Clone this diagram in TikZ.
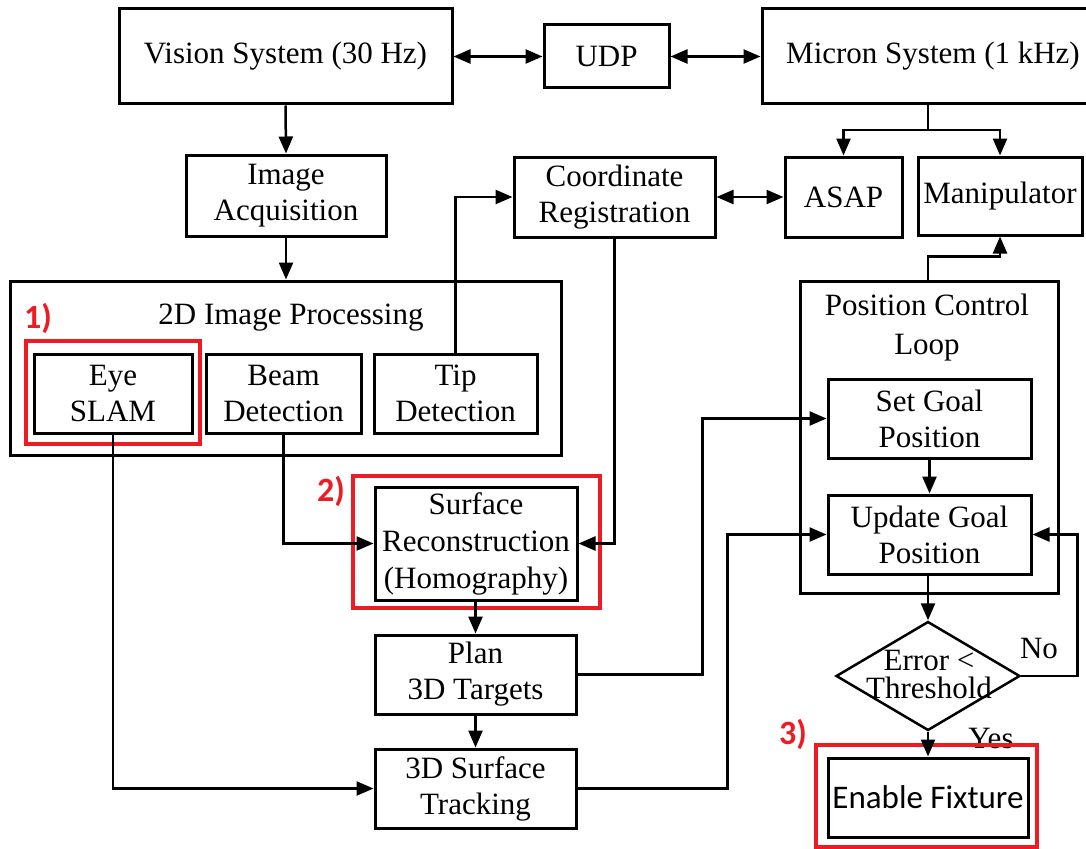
\documentclass[tikz,border=0pt]{standalone}
\usepackage{fontspec}
\setmainfont{Liberation Serif}
\newfontfamily\calibri{Carlito}
\usetikzlibrary{arrows.meta, positioning, shapes.geometric, calc}
\definecolor{markRed}{HTML}{ED1C24}
\tikzset{
  arrowK/.style={-{Triangle[length=17pt,width=14pt]}, line width=2.5pt},
  arrowKK/.style={{Triangle[length=17pt,width=14pt]}-{Triangle[length=17pt,width=14pt]}, line width=2.5pt},
  boxA/.style={rectangle, draw, line width=3pt, align=center, inner sep=0pt},
  boxGroup/.style={rectangle, draw, line width=3pt, inner sep=0pt},
  boxRed/.style={rectangle, draw=markRed, line width=4.5pt, inner sep=0pt},
  tagRed/.style={text=markRed, font=\calibri\bfseries\fontsize{34}{36}\selectfont},
  decision/.style={diamond, draw, line width=2.5pt, inner sep=0pt},
}

\begin{document}
\begin{tikzpicture}[x=1pt, y=-1pt, font=\fontsize{31}{36}\selectfont]
  \useasboundingbox (0,0) rectangle (1086,848);
  % systems on top
  \node[boxA, minimum width=333pt, minimum height=95pt] (vis) at (285.5,56.5) {Vision System (30 Hz)};
  \node[boxA, minimum width=125pt, minimum height=63pt] (udp) at (606.5,56.5) {UDP};
  \node[boxA, minimum width=342pt, minimum height=95pt] (micron) at (933,56.5) {Micron System (1 kHz)};
  % second row
  \node[boxA, minimum width=200pt, minimum height=81pt] (imgacq) at (286,195.5) {Image\\Acquisition};
  \node[boxA, minimum width=201pt, minimum height=80pt] (coord) at (614.5,197) {Coordinate\\Registration};
  \node[boxA, minimum width=117pt, minimum height=80pt] (asap) at (843.5,197) {ASAP};
  \node[boxA, minimum width=164pt, minimum height=78pt] (manip) at (1000,196) {Manipulator};
  % 2D processing group
  \node[boxGroup, minimum width=551pt, minimum height=174pt] (proc) at (285.5,368) {};
  \node (proctitle) at (291,318) {2D Image Processing};
  \node[boxRed, minimum width=174pt, minimum height=103pt] (red1) at (113,392.5) {};
  \node[boxA, minimum width=158pt, minimum height=79pt] (slam) at (113,393.5) {Eye\\SLAM};
  \node[boxA, minimum width=155pt, minimum height=79pt] (beam) at (283.5,393.5) {Beam\\Detection};
  \node[boxA, minimum width=163pt, minimum height=79pt] (tip) at (455.5,393.5) {Tip\\Detection};
  \node[tagRed] (tag1) at (38,318) {1)};
  % reconstruction and planning
  \node[boxRed, minimum width=247pt, minimum height=132pt] (red2) at (476.5,542) {};
  \node[boxA, minimum width=202pt, minimum height=113pt, font=\fontsize{31}{37}\selectfont] (surf) at (476,543.5) {Surface\\Reconstruction\\(Homography)};
  \node[tagRed] (tag2) at (331,491) {2)};
  \node[boxA, minimum width=201pt, minimum height=79pt] (plan) at (475.5,674.5) {Plan\\3D Targets};
  \node[boxA, minimum width=201pt, minimum height=79pt] (track) at (475.5,788.5) {3D Surface\\Tracking};
  % position control loop
  \node[boxGroup, minimum width=258pt, minimum height=312pt] (pcl) at (929,437) {};
  \node[align=center, font=\fontsize{31}{39}\selectfont] (pcltitle) at (927,328) {Position Control\\Loop};
  \node[boxA, minimum width=203pt, minimum height=79pt] (setg) at (929.5,418.5) {Set Goal\\Position};
  \node[boxA, minimum width=203pt, minimum height=79pt] (updg) at (929.5,534.5) {Update Goal\\Position};
  \node[decision, minimum width=184pt, minimum height=109pt] (err) at (928,676) {};
  \node[align=center, font=\fontsize{31}{28}\selectfont] (errtxt) at (929,674) {Error <\\Threshold};
  \node (lblNo) at (1039,648) {No};
  \node (lblYes) at (991,738) {Yes};
  \node[boxRed, minimum width=221pt, minimum height=102pt] (red3) at (926.5,796) {};
  \node[boxA, minimum width=200pt, minimum height=79pt, font=\calibri\fontsize{33}{36}\selectfont] (fix) at (928,797.5) {Enable Fixture};
  \node[tagRed] (tag3) at (793,734) {3)};
  % connections
  \coordinate (split) at (928,130);
  \draw[arrowKK] (vis.east) -- (udp.west);
  \draw[arrowKK] (udp.east) -- (micron.west);
  \draw[arrowK] (vis.south) -- (imgacq.north);
  \draw[arrowK] (imgacq.south) -- (imgacq.south |- proc.north);
  \draw[line width=2.5pt] (split |- micron.south) -- (split);
  \draw[arrowK] (split) -| (asap.north);
  \draw[arrowK] (split) -| (manip.north);
  \draw[arrowKK] (coord.east) -- (asap.west);
  \draw[arrowK] (tip.north) |- (coord.west);
  \draw[arrowK] (coord.south) |- (surf.east);
  \draw[arrowK] (beam.south) |- (surf.west);
  \draw[arrowK] (slam.south) |- (track.west);
  \draw[arrowK] (surf.south -| plan.north) -- (plan.north);
  \draw[arrowK] (plan.south) -- (track.north);
  \draw[arrowK] (plan.east) -- ++(125,0) |- (setg.west);
  \draw[arrowK] (track.east) -- ++(150,0) |- (updg.west);
  \draw[arrowK] (setg.south) -- (updg.north);
  \draw[arrowK] (updg.south -| err.north) -- (err.north);
  \draw[arrowK] (err.east) -- ++(56,0) |- (updg.east);
  \draw[arrowK] (err.south) -- (fix.north);
  \draw[arrowK] (pcl.north -| split) -- ++(0,-23) -| (manip.south);
\end{tikzpicture}
\end{document}
